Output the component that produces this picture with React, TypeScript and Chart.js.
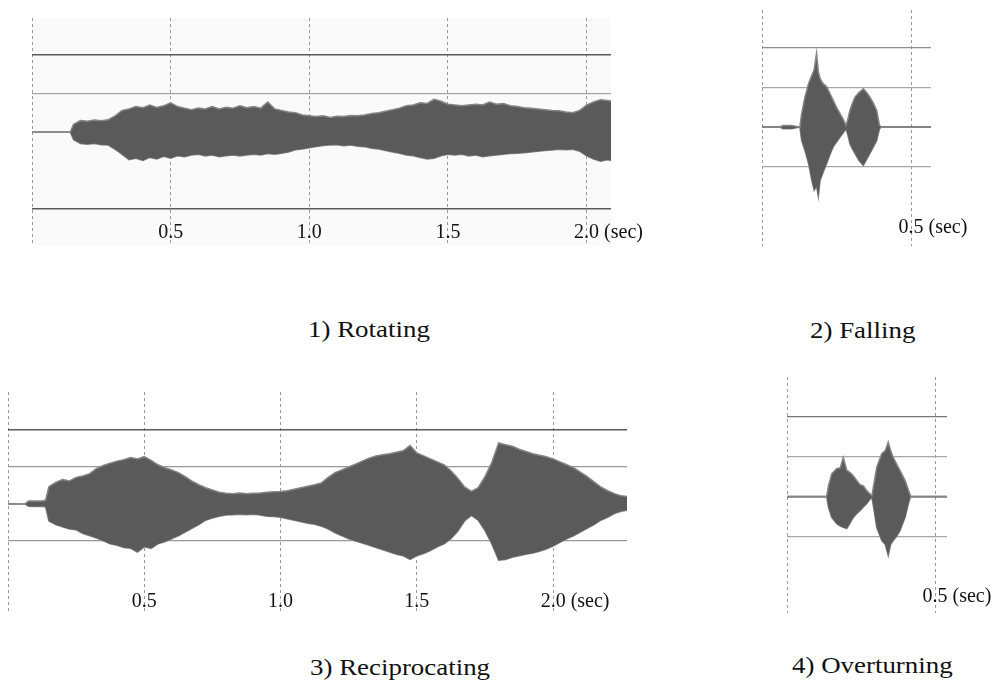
import React, { useEffect, useRef } from "react";
import { Chart, registerables } from "chart.js";

Chart.register(...registerables);

// ---------- 1) Rotating ----------
const rotTime = [0, 0.025, 0.05, 0.075, 0.1, 0.125, 0.138, 0.15, 0.175, 0.2, 0.225, 0.25, 0.275, 0.3, 0.325, 0.35, 0.375, 0.4, 0.425, 0.45, 0.475, 0.5, 0.525, 0.55, 0.575, 0.6, 0.625, 0.65, 0.675, 0.7, 0.725, 0.75, 0.775, 0.8, 0.825, 0.85, 0.875, 0.9, 0.925, 0.95, 0.975, 1.0, 1.025, 1.05, 1.075, 1.1, 1.125, 1.15, 1.175, 1.2, 1.225, 1.25, 1.275, 1.3, 1.325, 1.35, 1.375, 1.4, 1.425, 1.45, 1.475, 1.5, 1.525, 1.55, 1.575, 1.6, 1.625, 1.65, 1.675, 1.7, 1.725, 1.75, 1.775, 1.8, 1.825, 1.85, 1.875, 1.9, 1.925, 1.95, 1.975, 2.0, 2.025, 2.05, 2.075, 2.09];
const rotUpper = [0, 0, 0, 0, 0, 0, 0, 0.2, 0.3, 0.28, 0.31, 0.29, 0.32, 0.42, 0.56, 0.6, 0.66, 0.63, 0.7, 0.64, 0.68, 0.76, 0.66, 0.62, 0.58, 0.62, 0.6, 0.66, 0.6, 0.64, 0.62, 0.68, 0.63, 0.66, 0.62, 0.78, 0.6, 0.56, 0.52, 0.5, 0.44, 0.42, 0.4, 0.42, 0.38, 0.41, 0.4, 0.43, 0.42, 0.44, 0.48, 0.5, 0.54, 0.58, 0.62, 0.68, 0.7, 0.76, 0.74, 0.85, 0.8, 0.72, 0.7, 0.68, 0.7, 0.72, 0.7, 0.78, 0.72, 0.74, 0.68, 0.66, 0.63, 0.62, 0.6, 0.58, 0.56, 0.55, 0.52, 0.5, 0.56, 0.7, 0.78, 0.84, 0.82, 0.8];
const rotLower = [0, 0, 0, 0, 0, 0, 0, -0.2, -0.3, -0.32, -0.3, -0.33, -0.34, -0.45, -0.58, -0.72, -0.68, -0.74, -0.66, -0.7, -0.63, -0.68, -0.62, -0.64, -0.6, -0.58, -0.62, -0.6, -0.64, -0.62, -0.6, -0.62, -0.6, -0.58, -0.6, -0.56, -0.58, -0.55, -0.52, -0.46, -0.44, -0.41, -0.38, -0.35, -0.34, -0.33, -0.36, -0.34, -0.37, -0.38, -0.42, -0.44, -0.48, -0.52, -0.55, -0.6, -0.62, -0.66, -0.7, -0.68, -0.62, -0.58, -0.6, -0.58, -0.62, -0.6, -0.64, -0.62, -0.6, -0.58, -0.56, -0.55, -0.54, -0.52, -0.5, -0.48, -0.47, -0.45, -0.46, -0.45, -0.5, -0.62, -0.7, -0.76, -0.72, -0.74];
const rotTicks = [0, 0.5, 1.0, 1.5, 2.0];
const rotTickLabels = ["", "0.5", "1.0", "1.5", "2.0"];

// ---------- 2) Falling ----------
const fallTime = [0, 0.06, 0.07, 0.1, 0.127, 0.133, 0.144, 0.156, 0.167, 0.175, 0.183, 0.189, 0.195, 0.205, 0.217, 0.228, 0.239, 0.25, 0.262, 0.272, 0.282, 0.288, 0.295, 0.303, 0.312, 0.326, 0.34, 0.351, 0.362, 0.374, 0.385, 0.394, 0.4, 0.567];
const fallUpper = [0, 0, 0.04, 0.04, 0, 0.34, 0.76, 1.1, 1.31, 1.45, 1.87, 1.4, 1.23, 1.1, 1.02, 0.85, 0.68, 0.5, 0.34, 0.2, 0.05, 0.2, 0.42, 0.6, 0.76, 0.88, 0.97, 0.88, 0.76, 0.6, 0.42, 0.05, 0, 0];
const fallLower = [0, 0, -0.04, -0.04, 0, -0.34, -0.59, -0.92, -1.35, -1.6, -1.5, -1.76, -1.35, -1.15, -0.92, -0.7, -0.5, -0.38, -0.25, -0.15, -0.05, -0.2, -0.42, -0.55, -0.67, -0.85, -0.97, -0.82, -0.67, -0.5, -0.34, -0.05, 0, 0];
const fallTicks = [0, 0.5];
const fallTickLabels = ["", "0.5"];

// ---------- 3) Reciprocating ----------
const recTime = [0, 0.025, 0.05, 0.062, 0.075, 0.1, 0.125, 0.138, 0.15, 0.175, 0.2, 0.225, 0.25, 0.275, 0.3, 0.325, 0.35, 0.375, 0.4, 0.425, 0.45, 0.475, 0.5, 0.525, 0.55, 0.575, 0.6, 0.625, 0.65, 0.675, 0.7, 0.725, 0.75, 0.775, 0.8, 0.825, 0.85, 0.875, 0.9, 0.925, 0.95, 0.975, 1.0, 1.025, 1.05, 1.075, 1.1, 1.125, 1.15, 1.175, 1.2, 1.225, 1.25, 1.275, 1.3, 1.325, 1.35, 1.375, 1.4, 1.425, 1.45, 1.475, 1.5, 1.525, 1.55, 1.575, 1.6, 1.625, 1.65, 1.675, 1.7, 1.725, 1.75, 1.775, 1.8, 1.825, 1.85, 1.875, 1.9, 1.925, 1.95, 1.975, 2.0, 2.025, 2.05, 2.075, 2.1, 2.125, 2.15, 2.175, 2.2, 2.225, 2.25, 2.275];
const recUpper = [0, 0, 0, 0, 0.08, 0.08, 0.08, 0.1, 0.47, 0.58, 0.66, 0.62, 0.72, 0.76, 0.82, 0.96, 1.04, 1.1, 1.16, 1.2, 1.26, 1.22, 1.28, 1.18, 1.06, 0.98, 0.92, 0.85, 0.74, 0.62, 0.52, 0.44, 0.38, 0.32, 0.29, 0.28, 0.3, 0.28, 0.29, 0.3, 0.32, 0.33, 0.34, 0.36, 0.4, 0.44, 0.48, 0.52, 0.57, 0.72, 0.85, 0.92, 1.0, 1.08, 1.16, 1.24, 1.3, 1.33, 1.36, 1.4, 1.44, 1.58, 1.38, 1.3, 1.22, 1.14, 1.06, 0.9, 0.7, 0.46, 0.34, 0.44, 0.74, 1.12, 1.65, 1.6, 1.56, 1.48, 1.42, 1.36, 1.32, 1.28, 1.22, 1.14, 1.06, 0.98, 0.86, 0.74, 0.6, 0.46, 0.36, 0.28, 0.22, 0.2];
const recLower = [0, 0, 0, 0, -0.06, -0.07, -0.06, -0.08, -0.46, -0.56, -0.62, -0.68, -0.7, -0.8, -0.86, -0.92, -1.0, -1.08, -1.12, -1.18, -1.2, -1.3, -1.16, -1.2, -1.08, -1.02, -0.94, -0.86, -0.76, -0.66, -0.56, -0.44, -0.38, -0.33, -0.3, -0.29, -0.28, -0.29, -0.28, -0.3, -0.33, -0.34, -0.36, -0.4, -0.44, -0.48, -0.52, -0.55, -0.6, -0.68, -0.78, -0.86, -0.94, -1.0, -1.06, -1.12, -1.18, -1.24, -1.3, -1.36, -1.4, -1.5, -1.4, -1.34, -1.26, -1.16, -1.08, -0.94, -0.74, -0.46, -0.31, -0.44, -0.72, -1.08, -1.52, -1.5, -1.44, -1.4, -1.36, -1.33, -1.28, -1.22, -1.14, -1.04, -0.94, -0.86, -0.76, -0.66, -0.56, -0.44, -0.36, -0.26, -0.2, -0.16];
const recTicks = [0, 0.5, 1.0, 1.5, 2.0];
const recTickLabels = ["", "0.5", "1.0", "1.5", "2.0"];

// ---------- 4) Overturning ----------
const overTime = [0, 0.134, 0.14, 0.151, 0.168, 0.18, 0.19, 0.202, 0.213, 0.224, 0.236, 0.247, 0.258, 0.269, 0.28, 0.287, 0.292, 0.303, 0.32, 0.332, 0.342, 0.35, 0.359, 0.37, 0.382, 0.399, 0.413, 0.418, 0.54];
const overUpper = [0, 0, 0.27, 0.57, 0.7, 0.72, 0.98, 0.66, 0.6, 0.52, 0.4, 0.3, 0.27, 0.15, 0.07, 0.02, 0.25, 0.73, 1.07, 1.15, 1.36, 1.15, 0.98, 0.82, 0.65, 0.4, 0.1, 0, 0];
const overLower = [0, 0, -0.27, -0.52, -0.68, -0.74, -0.77, -0.8, -0.66, -0.52, -0.42, -0.35, -0.26, -0.18, -0.07, -0.02, -0.25, -0.77, -1.1, -1.2, -1.48, -1.2, -1.1, -1.0, -0.85, -0.52, -0.1, 0, 0];
const overTicks = [0, 0.5];
const overTickLabels = ["", "0.5"];

const captions = ["1) Rotating", "2) Falling", "3) Reciprocating", "4) Overturning"];
const levelValues = [-2, -1, 0, 1, 2];

const SERIF = '"Liberation Serif", "Times New Roman", Times, serif';
const WAVE = "#5a5a5a";
const EDGE = "#858585";
const DARK = "#5a5a5a";
const GREY = "#a6a6a6";
const NONE = "rgba(0,0,0,0)";

type PanelProps = {
  box: { left: number; top: number; width: number; height: number };
  area: { left: number; top: number; right: number; bottom: number };
  time: number[];
  upper: number[];
  lower: number[];
  xMax: number;
  yMin: number;
  yMax: number;
  ticks: number[];
  tickLabels: string[];
  levelStyle: { [k: string]: [string, number] };
  labelOffset: number;
  bg?: string;
};

function Panel(p: PanelProps) {
  const ref = useRef<HTMLCanvasElement | null>(null);
  useEffect(() => {
    const canvas = ref.current;
    if (!canvas) return;
    const lh = p.labelOffset * 2;
    const bgPlugin = {
      id: "panelBg",
      beforeDraw(chart: any) {
        if (!p.bg) return;
        const { ctx, chartArea } = chart;
        ctx.save();
        ctx.fillStyle = p.bg;
        ctx.fillRect(chartArea.left, chartArea.top, chartArea.right - chartArea.left, chartArea.bottom - chartArea.top);
        ctx.restore();
      },
    };
    const secPlugin = {
      id: "secLabel",
      afterDraw(chart: any) {
        const s = chart.scales.x;
        const ctx = chart.ctx;
        const i = p.ticks.length - 1;
        const px = s.getPixelForValue(p.ticks[i]);
        ctx.save();
        ctx.font = "20px " + SERIF;
        const w = ctx.measureText(p.tickLabels[i]).width;
        ctx.fillStyle = "#111";
        ctx.textAlign = "left";
        ctx.textBaseline = "middle";
        ctx.fillText("(sec)", px + w / 2 + 5, chart.chartArea.bottom - p.labelOffset);
        ctx.restore();
      },
    };
    const chart = new Chart(canvas, {
      type: "line",
      data: {
        datasets: [
          {
            data: p.time.map((t, i) => ({ x: t, y: p.upper[i] })),
            fill: "+1",
            backgroundColor: WAVE,
            borderColor: EDGE,
            borderWidth: 1.5,
            pointRadius: 0,
            tension: 0,
          },
          {
            data: p.time.map((t, i) => ({ x: t, y: p.lower[i] })),
            fill: false,
            borderColor: EDGE,
            borderWidth: 1.5,
            pointRadius: 0,
            tension: 0,
          },
        ],
      },
      options: {
        responsive: false,
        animation: false,
        events: [],
        layout: {
          padding: {
            left: p.area.left - p.box.left,
            top: p.area.top - p.box.top,
            right: p.box.left + p.box.width - p.area.right,
            bottom: p.box.top + p.box.height - p.area.bottom,
          },
        },
        plugins: { legend: { display: false }, tooltip: { enabled: false } },
        scales: {
          x: {
            type: "linear",
            min: 0,
            max: p.xMax,
            afterBuildTicks: (s: any) => {
              s.ticks = p.ticks.map((v) => ({ value: v }));
            },
            ticks: {
              callback: (_v: any, i: number) => p.tickLabels[i],
              mirror: true,
              padding: 0,
              autoSkip: false,
              maxRotation: 0,
              minRotation: 0,
              color: "#111",
              font: { family: SERIF, size: 20, lineHeight: lh / 20 },
            },
            grid: { color: "#9a9a9a", lineWidth: 1, drawTicks: false },
            border: { display: false, dash: [3, 3] },
          },
          y: {
            type: "linear",
            min: p.yMin,
            max: p.yMax,
            afterBuildTicks: (s: any) => {
              s.ticks = levelValues.map((v) => ({ value: v }));
            },
            ticks: { display: false },
            grid: {
              drawTicks: false,
              color: (c: any) => (p.levelStyle[String(c.tick?.value)] || [NONE, 1])[0],
              lineWidth: (c: any) => (p.levelStyle[String(c.tick?.value)] || [NONE, 1])[1],
            },
            border: { display: false },
          },
        },
      },
      plugins: [bgPlugin, secPlugin],
    } as any);
    return () => chart.destroy();
  }, []);
  return (
    <canvas
      ref={ref}
      width={p.box.width}
      height={p.box.height}
      style={{ position: "absolute", left: p.box.left, top: p.box.top, width: p.box.width, height: p.box.height }}
    />
  );
}

function Caption({ text, left, top }: { text: string; left: number; top: number }) {
  return (
    <div
      style={{
        position: "absolute",
        left,
        top,
        fontFamily: SERIF,
        fontSize: 23,
        lineHeight: "23px",
        whiteSpace: "nowrap",
        color: "#111",
        transform: "scaleX(1.17)",
        transformOrigin: "left top",
      }}
    >
      {text}
    </div>
  );
}

export default function App() {
  return (
    <div style={{ position: "absolute", left: 0, top: 0, width: 1001, height: 686, background: "#fff", overflow: "hidden" }}>
      <Panel
        box={{ left: 22, top: 8, width: 640, height: 240 }}
        area={{ left: 32, top: 18, right: 611, bottom: 245 }}
        time={rotTime}
        upper={rotUpper}
        lower={rotLower}
        xMax={2.088}
        yMin={-2.935}
        yMax={2.961}
        ticks={rotTicks}
        tickLabels={rotTickLabels}
        levelStyle={{ "2": [DARK, 1.5], "1": [GREY, 1.2], "-2": [DARK, 1.5] }}
        labelOffset={12}
        bg="#fafafa"
      />
      <Panel
        box={{ left: 752, top: 2, width: 249, height: 250 }}
        area={{ left: 762, top: 10, right: 931, bottom: 246 }}
        time={fallTime}
        upper={fallUpper}
        lower={fallLower}
        xMax={0.567}
        yMin={-3.01}
        yMax={2.965}
        ticks={fallTicks}
        tickLabels={fallTickLabels}
        levelStyle={{ "2": ["#8c8c8c", 1.3], "1": [GREY, 1.2], "0": [DARK, 1.5], "-1": [GREY, 1.2] }}
        labelOffset={18}
      />
      <Panel
        box={{ left: 0, top: 385, width: 660, height: 235 }}
        area={{ left: 8, top: 392, right: 627, bottom: 613 }}
        time={recTime}
        upper={recUpper}
        lower={recLower}
        xMax={2.271}
        yMin={-2.95}
        yMax={3.03}
        ticks={recTicks}
        tickLabels={recTickLabels}
        levelStyle={{ "2": [DARK, 1.5], "1": ["#999999", 1.2], "-1": ["#999999", 1.2] }}
        labelOffset={11.5}
      />
      <Panel
        box={{ left: 777, top: 370, width: 224, height: 250 }}
        area={{ left: 787, top: 377, right: 947, bottom: 613 }}
        time={overTime}
        upper={overUpper}
        lower={overLower}
        xMax={0.5405}
        yMin={-2.91}
        yMax={2.99}
        ticks={overTicks}
        tickLabels={overTickLabels}
        levelStyle={{ "2": ["#777777", 1.3], "1": [GREY, 1.2], "0": [DARK, 1.5], "-1": [GREY, 1.2] }}
        labelOffset={16}
      />
      <Caption text={captions[0]} left={308} top={318} />
      <Caption text={captions[1]} left={810} top={319} />
      <Caption text={captions[2]} left={310} top={656} />
      <Caption text={captions[3]} left={792} top={654} />
    </div>
  );
}
